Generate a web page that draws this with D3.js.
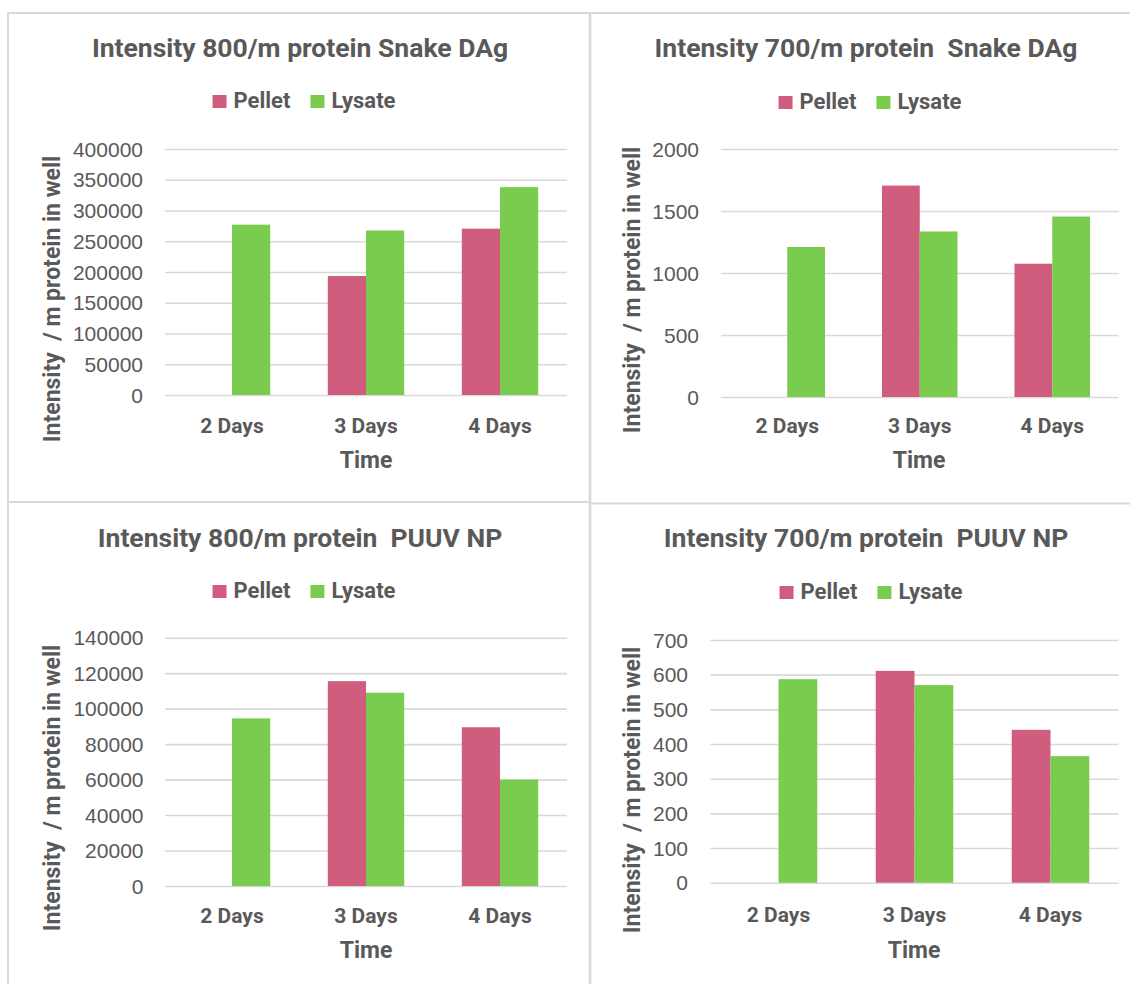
<!DOCTYPE html>
<html>
<head>
<meta charset="utf-8">
<script src="https://cdn.jsdelivr.net/npm/d3@7"></script>
<style>
  html, body { margin: 0; padding: 0; background: #fff; }
  svg { display: block; }
</style>
</head>
<body>
<svg id="chart" width="1130" height="984"></svg>
<script>
// ---- data ----
const categories = ["2 Days", "3 Days", "4 Days"];
const seriesNames = ["Pellet", "Lysate"];
const seriesColors = ["#D05C7E", "#7ACC4F"];

const snake800Pellet = [null, 193500, 270500];
const snake800Lysate = [277000, 267500, 338000];
const snake800Ticks = [0, 50000, 100000, 150000, 200000, 250000, 300000, 350000, 400000];

const snake700Pellet = [null, 1705, 1075];
const snake700Lysate = [1210, 1335, 1455];
const snake700Ticks = [0, 500, 1000, 1500, 2000];

const puuv800Pellet = [null, 115500, 89500];
const puuv800Lysate = [94500, 109000, 60000];
const puuv800Ticks = [0, 20000, 40000, 60000, 80000, 100000, 120000, 140000];

const puuv700Pellet = [null, 611, 441];
const puuv700Lysate = [587, 570, 365];
const puuv700Ticks = [0, 100, 200, 300, 400, 500, 600, 700];

const titles = [
  "Intensity 800/m protein Snake DAg",
  "Intensity 700/m protein  Snake DAg",
  "Intensity 800/m protein  PUUV NP",
  "Intensity 700/m protein  PUUV NP"
];
const yAxisTitle = "Intensity  / m protein in well";
const xAxisTitle = "Time";

// ---- panel layout ----
const panels = [
  { title: titles[0], series: [snake800Pellet, snake800Lysate], ticks: snake800Ticks,
    titleX: 300, titleY: 57, legendX: 304, legendY: 108,
    left: 165, right: 567, top: 149, bottom: 395, tickX: 143,
    yTitleX: 59.5, yTitleY: 299, catY: 433, timeX: 366, timeY: 468 },
  { title: titles[1], series: [snake700Pellet, snake700Lysate], ticks: snake700Ticks,
    titleX: 866, titleY: 57, legendX: 870, legendY: 109,
    left: 721, right: 1118.5, top: 149, bottom: 397, tickX: 699,
    yTitleX: 640.4, yTitleY: 290, catY: 433, timeX: 919, timeY: 468 },
  { title: titles[2], series: [puuv800Pellet, puuv800Lysate], ticks: puuv800Ticks,
    titleX: 300, titleY: 547, legendX: 304, legendY: 598,
    left: 165, right: 567, top: 637.7, bottom: 886, tickX: 143.5,
    yTitleX: 59.5, yTitleY: 788, catY: 923, timeX: 366, timeY: 958 },
  { title: titles[3], series: [puuv700Pellet, puuv700Lysate], ticks: puuv700Ticks,
    titleX: 866, titleY: 547, legendX: 871, legendY: 599,
    left: 710.5, right: 1118.5, top: 640, bottom: 882.7, tickX: 688,
    yTitleX: 640.4, yTitleY: 790, catY: 922, timeX: 914, timeY: 958 }
];

const textColor = "#595959";
const gridColor = "#D9D9D9";
const boldFont = "Roboto, 'Open Sans', sans-serif";
const tickFont = "'Liberation Sans', Arial, sans-serif";

const svg = d3.select("#chart");

// panel frames
const frame = svg.append("g").attr("stroke", gridColor).attr("fill", "none");
frame.append("line").attr("x1", 8).attr("x2", 1130).attr("y1", 13).attr("y2", 13).attr("stroke-width", 2);
frame.append("line").attr("x1", 8).attr("x2", 8).attr("y1", 12).attr("y2", 984).attr("stroke-width", 2);
frame.append("line").attr("x1", 590).attr("x2", 590).attr("y1", 12).attr("y2", 984).attr("stroke-width", 2.6);
frame.append("line").attr("x1", 8).attr("x2", 590).attr("y1", 502).attr("y2", 502).attr("stroke-width", 2);
frame.append("line").attr("x1", 590).attr("x2", 1130).attr("y1", 503.5).attr("y2", 503.5).attr("stroke-width", 2);

panels.forEach(p => {
  const g = svg.append("g");

  const y = d3.scaleLinear()
    .domain([0, d3.max(p.ticks)])
    .range([p.bottom, p.top]);

  const x0 = d3.scaleBand()
    .domain(categories)
    .range([p.left, p.right])
    .paddingInner(0.43)
    .paddingOuter(0.215);

  const x1 = d3.scaleBand()
    .domain(seriesNames)
    .range([0, x0.bandwidth()]);

  // gridlines
  const yAxis = d3.axisLeft(y).tickValues(p.ticks)
    .tickSize(-(p.right - p.left)).tickFormat("");
  const grid = g.append("g").attr("transform", `translate(${p.left},0)`).call(yAxis);
  grid.select(".domain").remove();
  grid.selectAll(".tick line").attr("stroke", gridColor).attr("stroke-width", 1.6);

  // tick labels
  g.append("g").selectAll("text").data(p.ticks).join("text")
    .attr("x", p.tickX)
    .attr("y", d => y(d))
    .attr("dy", "0.36em")
    .attr("text-anchor", "end")
    .attr("font-family", tickFont)
    .attr("font-size", 21)
    .attr("fill", textColor)
    .text(d => d);

  // bars
  seriesNames.forEach((name, si) => {
    const vals = p.series[si];
    g.append("g").selectAll("rect")
      .data(categories.map((c, i) => ({ c, v: vals[i] })).filter(d => d.v != null))
      .join("rect")
      .attr("x", d => x0(d.c) + x1(name))
      .attr("width", x1.bandwidth())
      .attr("y", d => y(d.v))
      .attr("height", d => y(0) - y(d.v))
      .attr("fill", seriesColors[si]);
  });

  // category labels
  g.append("g").selectAll("text").data(categories).join("text")
    .attr("x", d => x0(d) + x0.bandwidth() / 2)
    .attr("y", p.catY)
    .attr("text-anchor", "middle")
    .attr("font-family", boldFont)
    .attr("font-weight", "bold")
    .attr("font-size", 21)
    .attr("fill", textColor)
    .text(d => d);

  // x axis title
  g.append("text")
    .attr("x", p.timeX).attr("y", p.timeY)
    .attr("text-anchor", "middle")
    .attr("font-family", boldFont).attr("font-weight", "bold")
    .attr("font-size", 23).attr("fill", textColor)
    .text(xAxisTitle);

  // y axis title
  g.append("text")
    .attr("transform", `translate(${p.yTitleX},${p.yTitleY}) rotate(-90)`)
    .attr("text-anchor", "middle")
    .style("white-space", "pre")
    .attr("font-family", boldFont).attr("font-weight", "bold")
    .attr("font-size", 23).attr("fill", textColor)
    .text(yAxisTitle);

  // chart title
  g.append("text")
    .attr("x", p.titleX).attr("y", p.titleY)
    .attr("text-anchor", "middle")
    .style("white-space", "pre")
    .attr("font-family", boldFont).attr("font-weight", "bold")
    .attr("font-size", 26.5).attr("fill", textColor)
    .text(p.title);

  // legend
  const leg = g.append("g");
  const items = seriesNames.map((name, i) => {
    const it = leg.append("g");
    it.append("rect").attr("width", 14).attr("height", 13)
      .attr("y", p.legendY - 13).attr("fill", seriesColors[i]);
    const t = it.append("text").attr("x", 21).attr("y", p.legendY)
      .attr("font-family", boldFont).attr("font-weight", "bold")
      .attr("font-size", 22).attr("fill", textColor)
      .text(name);
    return { it, w: 21 + t.node().getComputedTextLength() };
  });
  const gap = 20;
  const total = d3.sum(items, d => d.w) + gap * (items.length - 1);
  let cx = p.legendX - total / 2;
  items.forEach(d => {
    d.it.attr("transform", `translate(${cx},0)`);
    cx += d.w + gap;
  });
});
</script>
</body>
</html>
